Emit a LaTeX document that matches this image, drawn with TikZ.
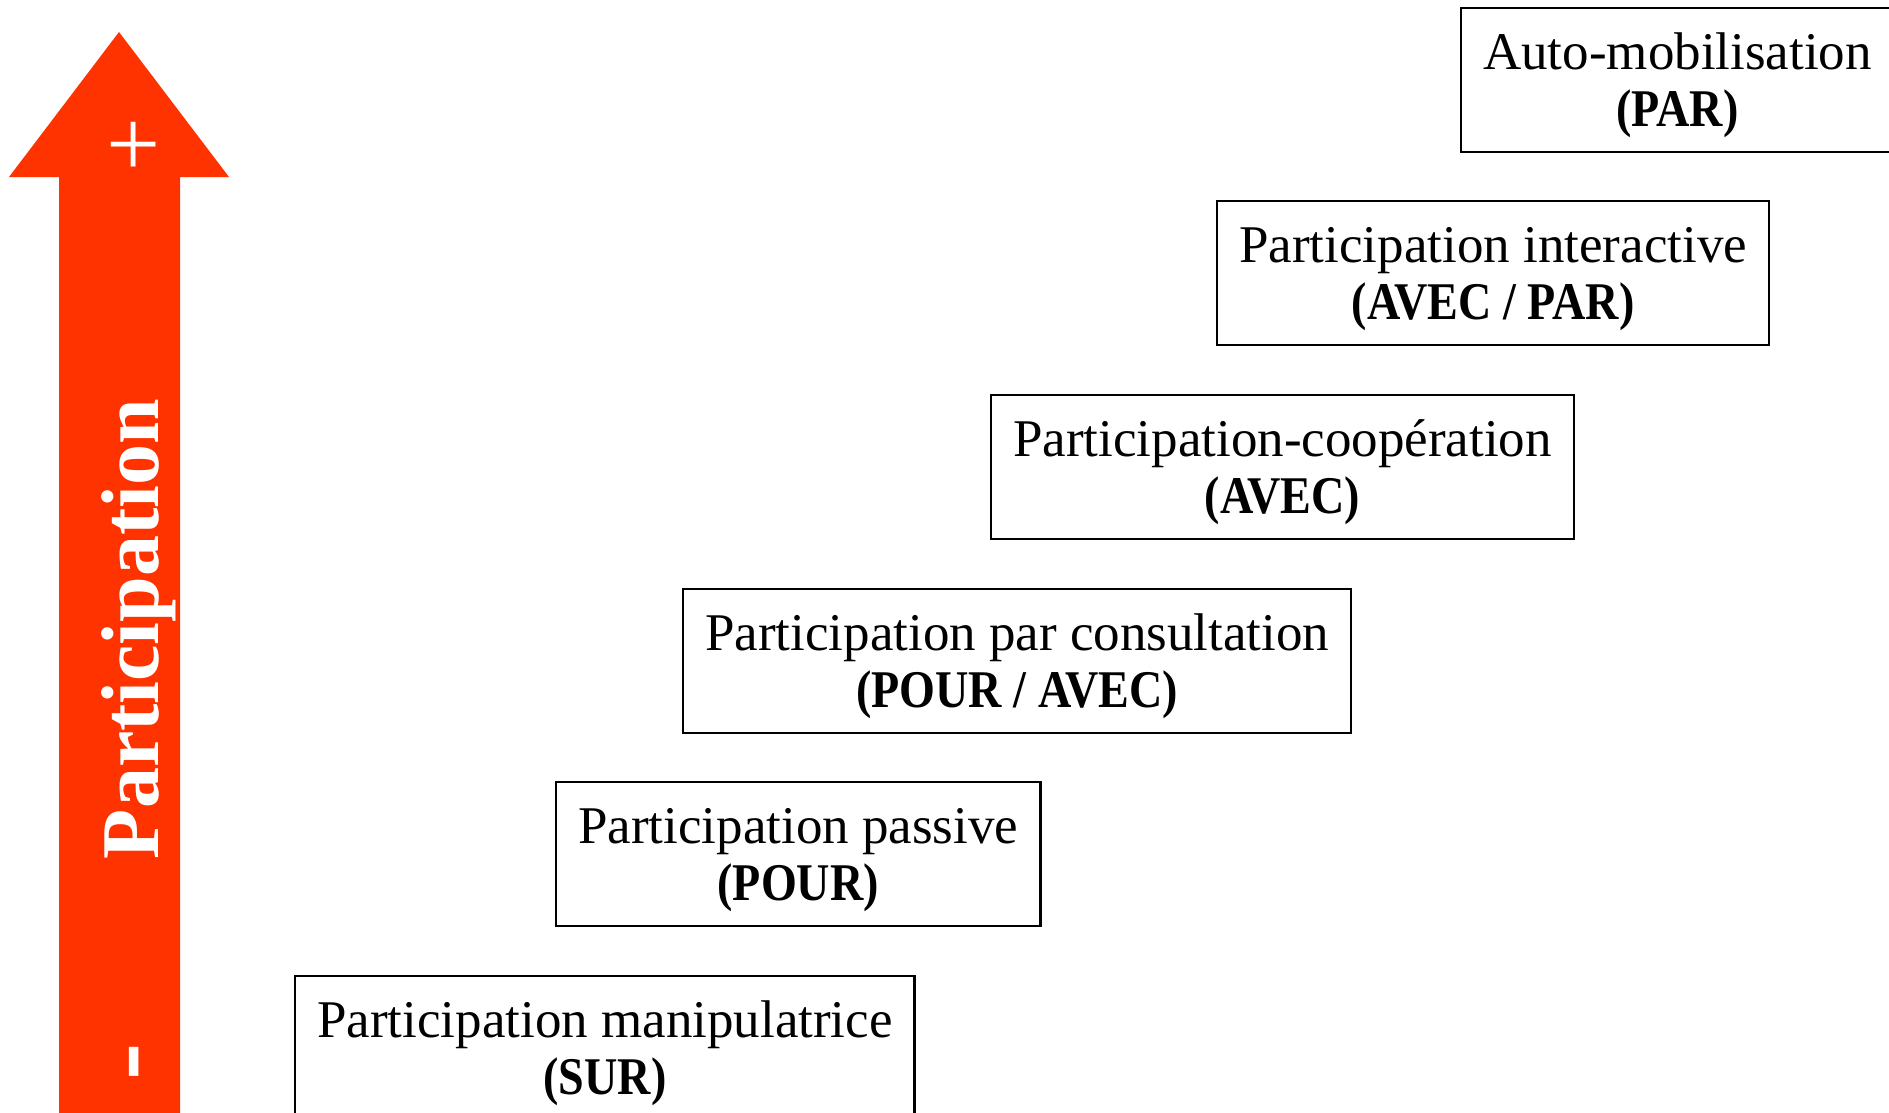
\documentclass[tikz,border=0pt]{standalone}
\usepackage{fontspec}
\setmainfont{Liberation Serif}
\newfontfamily\narrowserif[FakeStretch=0.87]{Liberation Serif}
\definecolor{arrowred}{RGB}{255,51,0}
\tikzset{
  stage/.style={draw, line width=1.2pt, anchor=north west, align=center,
    inner xsep=11pt, inner ysep=0pt, minimum height=72pt,
    text height=52pt, text depth=6pt,
    font=\fontsize{26.5pt}{28.5pt}\selectfont},
  axislabel/.style={text=white, inner sep=0pt}
}

\begin{document}
\begin{tikzpicture}[x=0.5pt, y=-0.5pt]
  \useasboundingbox (0,0) rectangle (1889,1113);

  % Draw the arrow
  \fill[arrowred] (59,1113) -- (59,177) -- (9,177) -- (119,32) -- (229,177)
    -- (180,177) -- (180,1113) -- cycle;

  % Add labels to the arrow
  \node[axislabel, font=\bfseries\fontsize{41pt}{41pt}\selectfont, rotate=90, anchor=base] (lab) at (158,629) {Participation};
  \node[axislabel, font=\fontsize{48pt}{48pt}\selectfont] (plus) at (134,149) {+};
  \node[axislabel, font=\bfseries\fontsize{56pt}{56pt}\selectfont, rotate=90, anchor=base] (minus) at (160,1062) {-};

  % Define the stages
  \node[stage] (s1) at (294,975) {Participation manipulatrice\\{\narrowserif\bfseries (SUR)}};
  \node[stage] (s2) at (555,781) {Participation passive\\{\narrowserif\bfseries (POUR)}};
  \node[stage] (s3) at (682,588) {Participation par consultation\\{\narrowserif\bfseries (POUR / AVEC)}};
  \node[stage] (s4) at (990,394) {Participation-coopération\\{\narrowserif\bfseries (AVEC)}};
  \node[stage] (s5) at (1216,200) {Participation interactive\\{\narrowserif\bfseries (AVEC / PAR)}};
  \node[stage] (s6) at (1460,7) {Auto-mobilisation\\{\narrowserif\bfseries (PAR)}};
\end{tikzpicture}
\end{document}
